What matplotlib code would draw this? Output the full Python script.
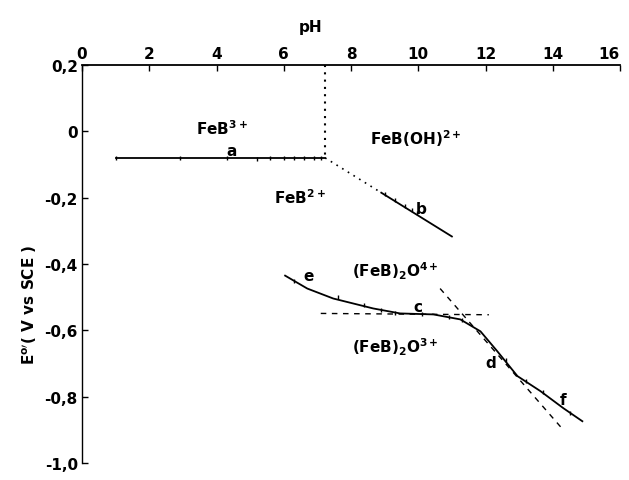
import matplotlib.pyplot as plt

plt.rc('font', family='DejaVu Sans', size=11)

# line a: FeB3+/FeB2+ (pH independent)
a_ph = [1.0, 7.23]
a_e = [-0.08, -0.08]
a_pts_ph = [1.0, 2.9, 4.3, 5.2, 5.6, 6.0, 6.3, 6.6, 6.9, 7.1]
a_pts_e = [-0.079, -0.080, -0.081, -0.082, -0.080, -0.081, -0.079, -0.080, -0.081, -0.080]

# line b: FeB(OH)2+/FeB2+
b_dot_ph = [7.23, 8.9]
b_dot_e = [-0.08, -0.185]
b_ph = [8.9, 11.0]
b_e = [-0.185, -0.317]
b_pts_ph = [9.0, 9.3, 9.6, 9.8, 9.95]
b_pts_e = [-0.19, -0.208, -0.226, -0.237, -0.246]

# curve e-c-d-f: dimer couples
c_ph = [6.04, 6.70, 7.47, 8.66, 9.46, 10.45, 11.25, 11.85, 12.35, 12.95, 13.63, 14.32, 14.88]
c_e = [-0.435, -0.474, -0.504, -0.534, -0.549, -0.552, -0.567, -0.603, -0.663, -0.738, -0.783, -0.835, -0.874]
c_pts_ph = [6.3, 7.6, 8.4, 8.9, 9.3, 10.1, 10.9, 11.3, 12.6, 13.2, 13.7, 14.5]
c_pts_e = [-0.45, -0.498, -0.525, -0.54, -0.547, -0.55, -0.56, -0.568, -0.69, -0.752, -0.786, -0.848]

# dashed asymptotes
h_ph = [7.1, 12.1]
h_e = [-0.549, -0.553]
s_ph = [10.65, 14.32]
s_e = [-0.474, -0.901]

# vertical pKa line
v_ph = [7.23, 7.23]
v_e = [0.2, -0.08]

xticks = [0, 2, 4, 6, 8, 10, 12, 14, 16]
yticks = [0.2, 0.0, -0.2, -0.4, -0.6, -0.8, -1.0]
ylabels = ['0,2', '0', '-0,2', '-0,4', '-0,6', '-0,8', '-1,0']

fig = plt.figure(figsize=(6.29, 4.81), dpi=100)
ax = fig.add_axes([0.1304, 0.0353, 0.8553, 0.8275])

ax.plot(a_ph, a_e, color='black', lw=1.3)
ax.plot(a_pts_ph, a_pts_e, ls='none', marker='|', ms=3, color='black', mew=1)
ax.plot(b_dot_ph, b_dot_e, color='black', lw=1.2, ls=(0, (1, 3)))
ax.plot(b_ph, b_e, color='black', lw=1.3)
ax.plot(b_pts_ph, b_pts_e, ls='none', marker='|', ms=3, color='black', mew=1)
ax.plot(c_ph, c_e, color='black', lw=1.3)
ax.plot(c_pts_ph, c_pts_e, ls='none', marker='|', ms=3, color='black', mew=1)
ax.plot(h_ph, h_e, color='black', lw=1.0, ls=(0, (4, 4)))
ax.plot(s_ph, s_e, color='black', lw=1.0, ls=(0, (4, 4)))
ax.plot(v_ph, v_e, color='black', lw=1.5, ls=(0, (1, 2.5)))

bold = dict(fontweight='bold', ha='center', va='center')
ax.text(4.17, 0.01, r'FeB$^{\mathbf{3+}}$', fontsize=11, **bold)
ax.text(9.91, -0.02, r'FeB(OH)$^{\mathbf{2+}}$', fontsize=11, **bold)
ax.text(6.49, -0.197, r'FeB$^{\mathbf{2+}}$', fontsize=11, **bold)
ax.text(9.32, -0.42, r'(FeB)$_{\mathbf{2}}$O$^{\mathbf{4+}}$', fontsize=11, **bold)
ax.text(9.32, -0.648, r'(FeB)$_{\mathbf{2}}$O$^{\mathbf{3+}}$', fontsize=11, **bold)
for lab, x, y in [('a', 4.46, -0.059), ('b', 10.1, -0.233), ('e', 6.73, -0.435),
                  ('c', 10.0, -0.528), ('d', 12.17, -0.696), ('f', 14.32, -0.807)]:
    ax.text(x, y, lab, fontsize=11, **bold)

ax.set_xlim(0, 16)
ax.set_ylim(-1.0, 0.2)
ax.xaxis.tick_top()
ax.set_xticks(xticks)
ax.set_xticklabels([str(t) for t in xticks], fontweight='bold')
ax.get_xticklabels()[-1].set_ha('right')
ax.set_yticks(yticks)
ax.set_yticklabels(ylabels, fontweight='bold')
ax.tick_params(which='both', direction='in', length=4, width=1, pad=3)
ax.spines['right'].set_visible(False)
ax.spines['bottom'].set_visible(False)
ax.spines['top'].set_linewidth(1.3)
ax.spines['left'].set_linewidth(1.0)

fig.text(0.493, 0.942, 'pH', fontweight='bold', ha='center', va='center', fontsize=11)
fig.text(0.048, 0.366, "E$^{\\mathbf{o}\\prime}$( V vs SCE )", fontweight='bold',
         rotation=90, ha='center', va='center', fontsize=11)

fig.savefig('out.png', dpi=100, facecolor='white')
